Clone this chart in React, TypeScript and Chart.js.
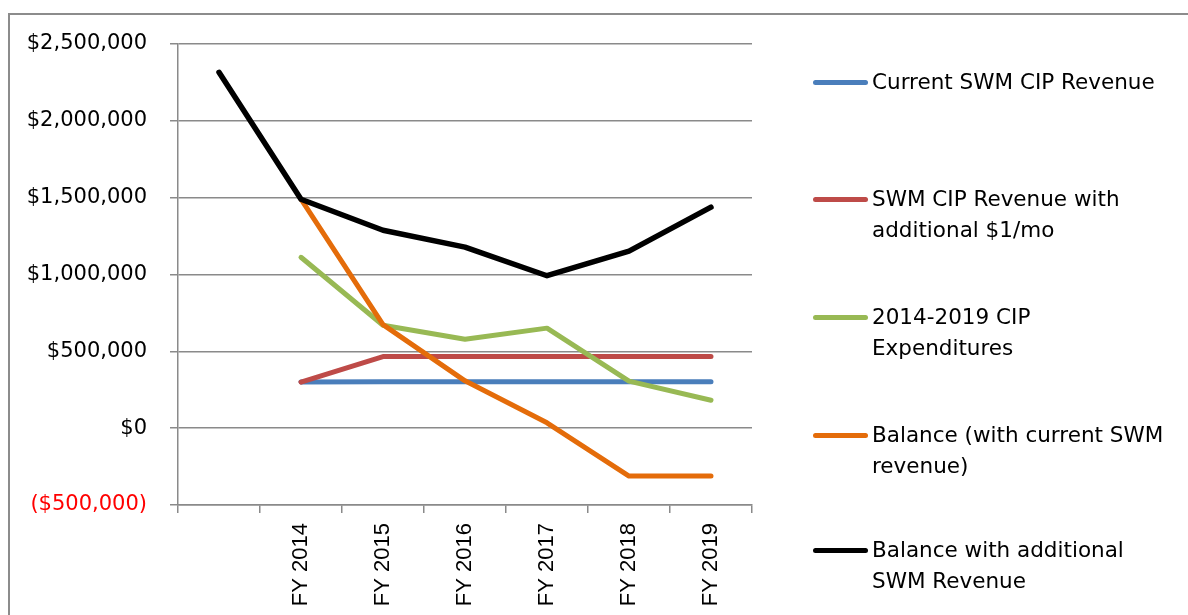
import React, { useEffect, useRef } from "react";
import { Chart, registerables } from "chart.js";

Chart.register(...registerables);

const categories = ["", "FY 2014", "FY 2015", "FY 2016", "FY 2017", "FY 2018", "FY 2019"];
const currentRevenue = [null, 300000, 302000, 302000, 302000, 302000, 302000];
const revenueWithDollar = [null, 300000, 466000, 466000, 466000, 466000, 466000];
const cipExpenditures = [null, 1112000, 670000, 579000, 651000, 306000, 182000];
const balanceCurrent = [null, 1490000, 674000, 308000, 35000, -312000, -312000];
const balanceAdditional = [2316000, 1490000, 1288000, 1178000, 992000, 1152000, 1438000];

const seriesNames = [
  ["Current SWM CIP Revenue"],
  ["SWM CIP Revenue with", "additional $1/mo"],
  ["2014-2019 CIP", "Expenditures"],
  ["Balance (with current SWM", "revenue)"],
  ["Balance with additional", "SWM Revenue"],
];
const seriesColors = ["#4A7EBB", "#BE4B48", "#98B954", "#E46C0A", "#000000"];
const seriesData = [currentRevenue, revenueWithDollar, cipExpenditures, balanceCurrent, balanceAdditional];

const yMin = -500000;
const yMax = 2500000;
const yStep = 500000;

const legendY = [82, 199, 317, 435, 550];

const GRID = "#8a8a8a";
const TICK_FONT = "'DejaVu Sans', sans-serif";

function fmt(v: number): string {
  const s = "$" + Math.abs(v).toLocaleString("en-US");
  return v < 0 ? "(" + s + ")" : s;
}

export default function App() {
  const ref = useRef<HTMLCanvasElement | null>(null);

  useEffect(() => {
    if (!ref.current) return;
    const chart = new Chart(ref.current, {
      type: "line",
      data: {
        labels: categories,
        datasets: seriesData.map((d, i) => ({
          label: seriesNames[i].join(" "),
          data: d,
          borderColor: seriesColors[i],
          backgroundColor: seriesColors[i],
          borderWidth: i === 4 ? 5.5 : 5,
          pointRadius: 0,
          tension: 0,
          borderCapStyle: "round" as const,
          borderJoinStyle: "round" as const,
          spanGaps: false,
          order: 5 - i,
        })),
      },
      options: {
        responsive: false,
        animation: false,
        devicePixelRatio: 1,
        layout: { padding: { top: 44, right: 436, bottom: 0, left: 0 } },
        plugins: {
          legend: { display: false },
          tooltip: { enabled: false },
          title: { display: false },
        },
        scales: {
          x: {
            type: "category",
            offset: true,
            grid: {
              display: true,
              drawOnChartArea: false,
              drawTicks: true,
              tickLength: 8,
              color: GRID,
              lineWidth: 1.5,
              offset: true,
            },
            border: { display: true, color: GRID, width: 1.5 },
            ticks: {
              autoSkip: false,
              minRotation: 90,
              maxRotation: 90,
              padding: 10,
              color: "#000",
              font: { family: "'Liberation Sans', Arial, sans-serif", size: 22 },
            },
            afterFit: (scale: any) => {
              scale.height = 110;
            },
          },
          y: {
            type: "linear",
            min: yMin,
            max: yMax,
            grid: {
              display: true,
              drawOnChartArea: true,
              drawTicks: true,
              tickLength: 8,
              color: GRID,
              lineWidth: 1.5,
            },
            border: { display: true, color: GRID, width: 1.5 },
            ticks: {
              stepSize: yStep,
              padding: 23,
              color: (ctx: any) => (ctx.tick && ctx.tick.value < 0 ? "#ff0000" : "#000000"),
              font: { family: TICK_FONT, size: 21 },
              callback: (v: any) => fmt(Number(v)),
            },
            afterFit: (scale: any) => {
              scale.width = 178;
            },
          },
        },
      },
    });
    return () => chart.destroy();
  }, []);

  return (
    <div
      style={{
        position: "fixed",
        left: 0,
        top: 0,
        width: 1188,
        height: 615,
        overflow: "hidden",
        background: "#fff",
      }}
    >
      <div
        style={{
          position: "absolute",
          left: 8,
          top: 13,
          width: 1300,
          height: 700,
          border: "2px solid #8c8c8c",
          boxSizing: "border-box",
        }}
      />
      <canvas
        ref={ref}
        width={1188}
        height={615}
        style={{ position: "absolute", left: 0, top: 0, width: 1188, height: 615 }}
      />
      {seriesNames.map((lines, i) => (
        <div key={i}>
          <div
            style={{
              position: "absolute",
              left: 813,
              top: legendY[i] - 2.5,
              width: 55,
              height: 5,
              borderRadius: 3,
              background: seriesColors[i],
            }}
          />
          <div
            style={{
              position: "absolute",
              left: 872,
              top: legendY[i] - 16,
              fontFamily: TICK_FONT,
              fontSize: 21.5,
              lineHeight: "31px",
              color: "#000",
              whiteSpace: "nowrap",
            }}
          >
            {lines.map((l, j) => (
              <div key={j}>{l}</div>
            ))}
          </div>
        </div>
      ))}
    </div>
  );
}
